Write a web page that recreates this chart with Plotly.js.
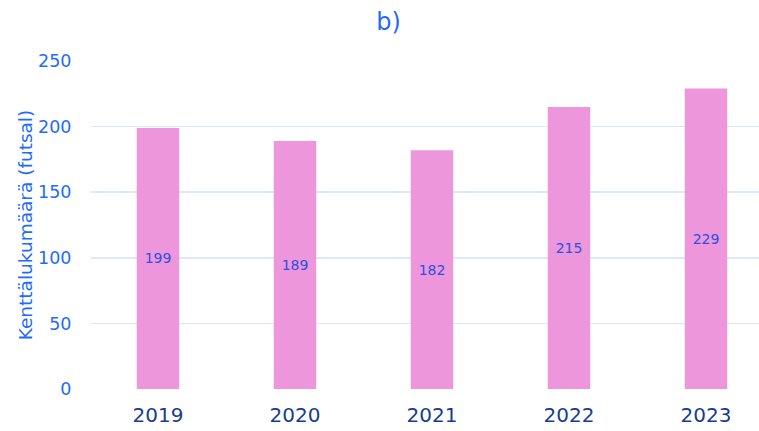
<!DOCTYPE html>
<html><head><meta charset="utf-8">
<script src="https://cdn.plot.ly/plotly-3.0.1.min.js"></script>
<style>html,body{margin:0;padding:0;background:#fff}#c{width:759px;height:431px}</style>
</head><body><div id="c"></div>
<script>
const years = ['2019','2020','2021','2022','2023'];
const counts = [199, 189, 182, 215, 229];
const yTicks = [0, 50, 100, 150, 200, 250];

const font = 'DejaVu Sans, Verdana, sans-serif';
Plotly.newPlot('c', [{
  type: 'bar', x: years, y: counts,
  text: counts.map(String), textposition: 'inside', insidetextanchor: 'middle',
  constraintext: 'none',
  textfont: {family: font, size: 14, color: '#2b4fe3'},
  marker: {color: '#ee96dc'}, width: 0.31, hoverinfo: 'none'
}], {
  width: 759, height: 431,
  margin: {l: 91, r: 0, t: 61, b: 42},
  paper_bgcolor: '#fff', plot_bgcolor: '#fff',
  showlegend: false,
  title: {text: 'b)', font: {family: font, size: 24, color: '#1f6bff'}, x: 0.512, xanchor: 'center', y: 0.95, yanchor: 'middle'},
  xaxis: {type: 'category', range: [-0.489, 4.387], showgrid: false, zeroline: false, showline: false,
    tickfont: {family: font, size: 20, color: '#173d8c'}, ticks: 'outside', ticklen: 8, tickcolor: 'rgba(0,0,0,0)'},
  yaxis: {range: [0, 250], tickvals: yTicks, showgrid: true, gridcolor: '#dfe7fa', gridwidth: 1.5, zeroline: false, showline: false,
    tickfont: {family: font, size: 17.5, color: '#1f6bff'}, ticks: 'outside', ticklen: 15, tickcolor: 'rgba(0,0,0,0)',
    title: {text: 'Kenttälukumäärä (futsal)', font: {family: font, size: 18.5, color: '#1f6bff'}, standoff: 0}}
}, {displayModeBar: false, staticPlot: true});
</script></body></html>
